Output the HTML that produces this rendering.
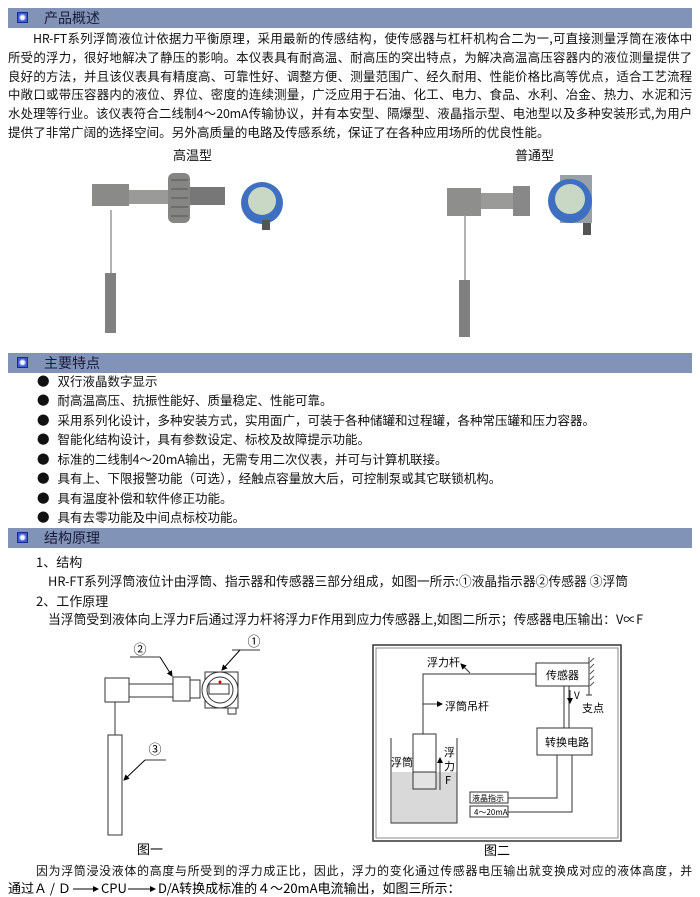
<!DOCTYPE html>
<html><head><meta charset="utf-8"><style>
body{margin:0;width:700px;height:897px;background:#fff;position:relative;overflow:hidden;font-family:"Noto Sans CJK SC","Liberation Sans",sans-serif;color:#111}
.bar{position:absolute;left:8px;width:684px;height:20px;background:#8194b8;font-size:14px;line-height:20px;color:#1a1a3a}
.bar i{position:absolute;left:9px;top:4px;width:11px;height:11px;background:radial-gradient(#fff 0 25%,#3d5bd8 60%);border:1px solid #1a2a90;box-sizing:border-box}
.bar span{position:absolute;left:36px}
.t{position:absolute;font-size:14px;white-space:nowrap;line-height:18px}
.j{position:absolute;left:8px;width:684px;font-size:12.4px;line-height:18px;white-space:nowrap;text-align:justify;text-align-last:justify;letter-spacing:-0.2px}
.li{position:absolute;left:37px;font-size:12.5px;white-space:nowrap;line-height:18px}
.li:before{content:"●";margin-right:8px}
</style></head><body>
<div class="bar" style="top:8px"><i></i><span>产品概述</span></div>
<div class="j" style="top:29px;left:33px;width:659px">HR-FT系列浮筒液位计依据力平衡原理，采用最新的传感结构，使传感器与杠杆机构合二为一,可直接测量浮筒在液体中</div>
<div class="j" style="top:48px">所受的浮力，很好地解决了静压的影响。本仪表具有耐高温、耐高压的突出特点，为解决高温高压容器内的液位测量提供了</div>
<div class="j" style="top:67px">良好的方法，并且该仪表具有精度高、可靠性好、调整方便、测量范围广、经久耐用、性能价格比高等优点，适合工艺流程</div>
<div class="j" style="top:85px">中敞口或带压容器内的液位、界位、密度的连续测量，广泛应用于石油、化工、电力、食品、水利、冶金、热力、水泥和污</div>
<div class="j" style="top:104px">水处理等行业。该仪表符合二线制4～20mA传输协议，并有本安型、隔爆型、液晶指示型、电池型以及多种安装形式,为用户</div>
<div class="t" style="left:8px;top:123px;font-size:12.6px">提供了非常广阔的选择空间。另外高质量的电路及传感系统，保证了在各种应用场所的优良性能。</div>
<div class="t" style="left:173px;top:146px;font-size:13px">高温型</div>
<div class="t" style="left:515px;top:146px;font-size:13px">普通型</div>
<svg style="position:absolute;left:0;top:165px" width="700" height="180">
<g>
<rect x="92" y="19" width="37" height="22" fill="#8a8a88"/><rect x="129" y="25" width="40" height="14" fill="#9a9a98"/>
<rect x="168" y="8" width="22" height="50" rx="6" fill="#858583"/>
<line x1="171" y1="15" x2="188" y2="15" stroke="#555"/><line x1="171" y1="24" x2="188" y2="24" stroke="#555"/><line x1="171" y1="33" x2="188" y2="33" stroke="#555"/><line x1="171" y1="42" x2="188" y2="42" stroke="#555"/><line x1="171" y1="51" x2="188" y2="51" stroke="#555"/>
<rect x="190" y="22" width="35" height="18" fill="#777"/>
<circle cx="262" cy="38" r="21" fill="#3e6fc0"/><circle cx="262" cy="36" r="14" fill="#c8d8c4"/>
<rect x="262" y="55" width="8" height="10" fill="#555"/>
<line x1="111" y1="45" x2="111" y2="108" stroke="#999" stroke-width="1.5"/>
<rect x="105" y="108" width="11" height="60" fill="#808080"/>
</g>
<g>
<rect x="447" y="23" width="34" height="28" fill="#8e8e8c"/><rect x="481" y="28" width="32" height="16" fill="#9a9a98"/>
<rect x="513" y="21" width="17" height="30" fill="#888"/>
<rect x="560" y="10" width="32" height="48" fill="#9aa0a8"/>
<circle cx="570" cy="36" r="22" fill="#3e6fc0"/><circle cx="570" cy="34" r="15" fill="#c8d8c4"/>
<rect x="583" y="58" width="8" height="12" fill="#555"/>
<line x1="465" y1="50" x2="465" y2="115" stroke="#999" stroke-width="1.5"/>
<rect x="459" y="115" width="11" height="57" fill="#808080"/>
</g>
</svg>
<div class="bar" style="top:353px"><i></i><span>主要特点</span></div>
<div class="li" style="top:372px">双行液晶数字显示</div>
<div class="li" style="top:391px">耐高温高压、抗振性能好、质量稳定、性能可靠。</div>
<div class="li" style="top:411px">采用系列化设计，多种安装方式，实用面广，可装于各种储罐和过程罐，各种常压罐和压力容器。</div>
<div class="li" style="top:430px">智能化结构设计，具有参数设定、标校及故障提示功能。</div>
<div class="li" style="top:450px">标准的二线制4～20mA输出，无需专用二次仪表，并可与计算机联接。</div>
<div class="li" style="top:469px">具有上、下限报警功能（可选），经触点容量放大后，可控制泵或其它联锁机构。</div>
<div class="li" style="top:489px">具有温度补偿和软件修正功能。</div>
<div class="li" style="top:508px">具有去零功能及中间点标校功能。</div>
<div class="bar" style="top:528px"><i></i><span>结构原理</span></div>
<div class="t" style="left:36px;top:553px;font-size:13px">1、结构</div>
<div class="t" style="left:48px;top:572px;font-size:12.8px">HR-FT系列浮筒液位计由浮筒、指示器和传感器三部分组成，如图一所示:①液晶指示器②传感器 ③浮筒</div>
<div class="t" style="left:36px;top:592px;font-size:13px">2、工作原理</div>
<div class="t" style="left:48px;top:610px;font-size:12.8px">当浮筒受到液体向上浮力F后通过浮力杆将浮力F作用到应力传感器上,如图二所示；传感器电压输出：V∝F</div>
<svg style="position:absolute;left:0;top:0" width="700" height="897" font-family="Noto Sans CJK SC,Liberation Sans,sans-serif">
<defs><marker id="a" markerWidth="6" markerHeight="6" refX="5" refY="3" orient="auto"><path d="M0,0L6,3L0,6z" fill="#000"/></marker></defs>
<g stroke="#333" fill="none" stroke-width="1">
<rect x="105" y="678" width="24" height="24"/>
<rect x="129" y="684" width="44" height="13"/>
<rect x="173" y="677" width="17" height="24"/>
<rect x="190" y="680" width="10" height="18"/>
<rect x="205" y="672" width="33" height="36"/>
<circle cx="220" cy="690" r="18" fill="#fff"/><circle cx="220" cy="690" r="13"/>
<rect x="209" y="684" width="20" height="10"/>
<rect x="228" y="708" width="8" height="6"/>
<line x1="115" y1="702" x2="115" y2="735"/>
<rect x="108" y="735" width="14" height="100"/>
<line x1="130" y1="657" x2="160" y2="657"/><line x1="160" y1="657" x2="172" y2="676" marker-end="url(#a)" stroke="#000"/>
<line x1="232" y1="650" x2="260" y2="650"/><line x1="240" y1="650" x2="222" y2="670" marker-end="url(#a)" stroke="#000"/>
<line x1="145" y1="760" x2="166" y2="760"/><line x1="145" y1="760" x2="124" y2="780" marker-end="url(#a)" stroke="#000"/>
</g>
<circle cx="220" cy="682" r="1.5" fill="#d00"/>
<text x="140" y="654" font-size="13" text-anchor="middle">②</text>
<text x="254" y="646" font-size="13" text-anchor="middle">①</text>
<text x="155" y="754" font-size="13" text-anchor="middle">③</text>
<text x="150" y="854" font-size="13" text-anchor="middle">图一</text>
<g stroke="#333" fill="none">
<rect x="373" y="645" width="248" height="196" stroke-width="1.5"/>
<rect x="376" y="648" width="242" height="190" stroke="#888"/>
<rect x="392" y="772" width="65" height="51" fill="#d9d9d9" stroke="none"/>
<polyline points="391,738 391,823 457,823 457,738"/>
<rect x="413" y="734" width="23" height="55" fill="#fff"/>
<rect x="413" y="772" width="23" height="17" fill="#e3e3e3"/>
<polyline points="423,734 423,674 536,674"/>
<line x1="470" y1="673" x2="461" y2="664" marker-end="url(#a)"/>
<line x1="423" y1="704" x2="442" y2="704" marker-end="url(#a)"/>
<rect x="536" y="663" width="53" height="23" fill="#fff"/>
<line x1="589" y1="657" x2="589" y2="695"/><line x1="586" y1="695" x2="592" y2="695"/>
<line x1="564" y1="686" x2="564" y2="728"/><line x1="569" y1="686" x2="569" y2="728"/>
<line x1="570" y1="690" x2="570" y2="703" marker-end="url(#a)"/>
<rect x="537" y="728" width="55" height="27" fill="#fff"/>
<polyline points="557,755 557,798 508,798"/>
<polyline points="572,755 572,812 508,812"/>
<rect x="470" y="792" width="38" height="11"/>
<rect x="470" y="806" width="38" height="11"/>
<line x1="440" y1="790" x2="440" y2="758" marker-end="url(#a)"/>
</g>
<g stroke="#555"><line x1="590" y1="662" x2="594" y2="658"/><line x1="590" y1="668" x2="594" y2="664"/><line x1="590" y1="674" x2="594" y2="670"/><line x1="590" y1="680" x2="594" y2="676"/><line x1="590" y1="686" x2="594" y2="682"/></g>
<text x="427" y="666" font-size="11">浮力杆</text>
<text x="445" y="710" font-size="11">浮筒吊杆</text>
<text x="546" y="679" font-size="11">传感器</text>
<text x="574" y="699" font-size="10">V</text>
<text x="582" y="712" font-size="11">支点</text>
<text x="545" y="746" font-size="11">转换电路</text>
<text x="391" y="766" font-size="11">浮筒</text>
<text x="444" y="756" font-size="11">浮</text>
<text x="444" y="770" font-size="11">力</text>
<text x="445" y="784" font-size="11">F</text>
<text x="472" y="801" font-size="8">液晶指示</text>
<text x="474" y="815" font-size="8">4～20mA</text>
<text x="497" y="855" font-size="13" text-anchor="middle">图二</text>
<line x1="73" y1="889" x2="98" y2="889" stroke="#000" marker-end="url(#a)"/>
<line x1="128" y1="889" x2="155" y2="889" stroke="#000" marker-end="url(#a)"/>
<text x="8" y="893" font-size="13">通过Ａ / Ｄ</text>
<text x="101" y="893" font-size="13">CPU</text>
<text x="158" y="893" font-size="13">D/A转换成标准的４～20mA电流输出，如图三所示：</text>
</svg>
<div class="j" style="top:862px;left:36px;width:656px;font-size:11.9px">因为浮筒浸没液体的高度与所受到的浮力成正比，因此，浮力的变化通过传感器电压输出就变换成对应的液体高度，并</div>
</body></html>
